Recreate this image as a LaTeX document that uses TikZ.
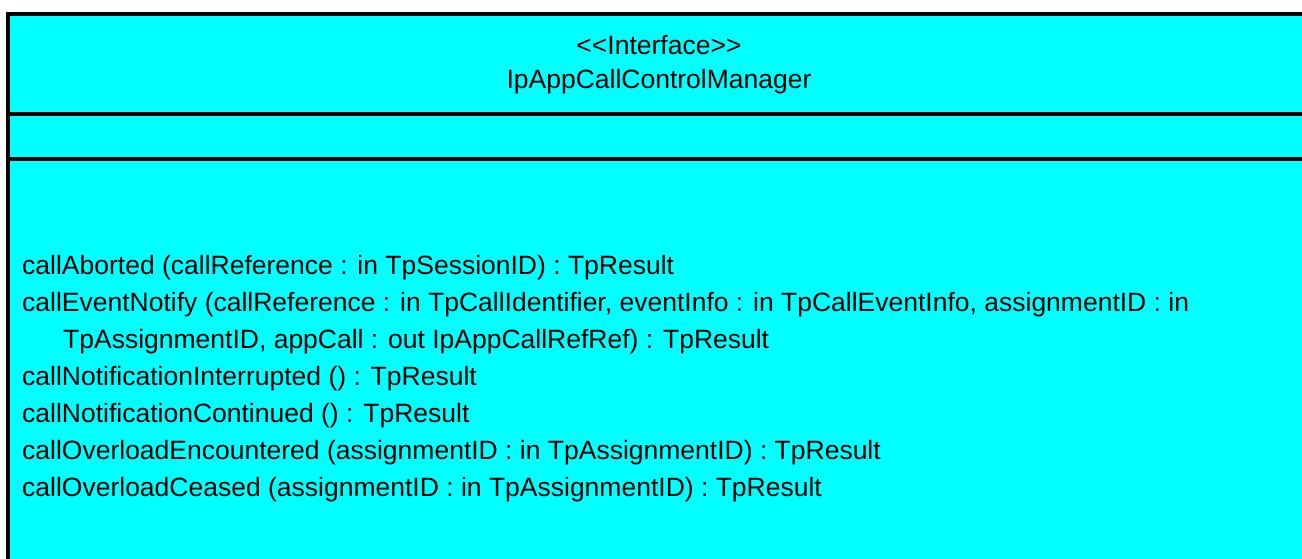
\documentclass[tikz,border=0pt]{standalone}
\usepackage{fontspec}
\setmainfont{Liberation Sans}
\definecolor{umlcyan}{RGB}{0,255,255}
\begin{document}
\begin{tikzpicture}[x=1pt,y=-1pt,
  txt/.style={inner sep=0pt,anchor=base west,font=\fontsize{26.5}{30}\selectfont},
  hdr/.style={inner sep=0pt,anchor=base,font=\fontsize{26.5}{30}\selectfont},
  bar/.style={line width=4pt,black}]
\useasboundingbox (0,0) rectangle (1302,559);
\fill[umlcyan] (6,12) rectangle (1302,559);
\draw[bar] (8,559) -- (8,14) -- (1302,14);
\draw[bar] (8,114) -- (1302,114);
\draw[bar] (8,159) -- (1302,159);
\node[hdr] (stereo) at (659,54.5) {<{}<Interface>{}>};
\node[hdr] (name) at (659,88.5) {IpAppCallControlManager};
\node[txt] (m1) at (22,274.5) {callAborted (callReference : in TpSessionID) : TpResult};
\node[txt] (m2) at (22,311.5) {callEventNotify (callReference : in TpCallIdentifier, eventInfo : in TpCallEventInfo, assignmentID : in};
\node[txt] (m2b) at (63,348.5) {TpAssignmentID, appCall : out IpAppCallRefRef) : TpResult};
\node[txt] (m3) at (22,385.5) {callNotificationInterrupted () : TpResult};
\node[txt] (m4) at (22,422.5) {callNotificationContinued () : TpResult};
\node[txt] (m5) at (22,459.5) {callOverloadEncountered (assignmentID : in TpAssignmentID) : TpResult};
\node[txt] (m6) at (22,496.5) {callOverloadCeased (assignmentID : in TpAssignmentID) : TpResult};
\end{tikzpicture}
\end{document}
